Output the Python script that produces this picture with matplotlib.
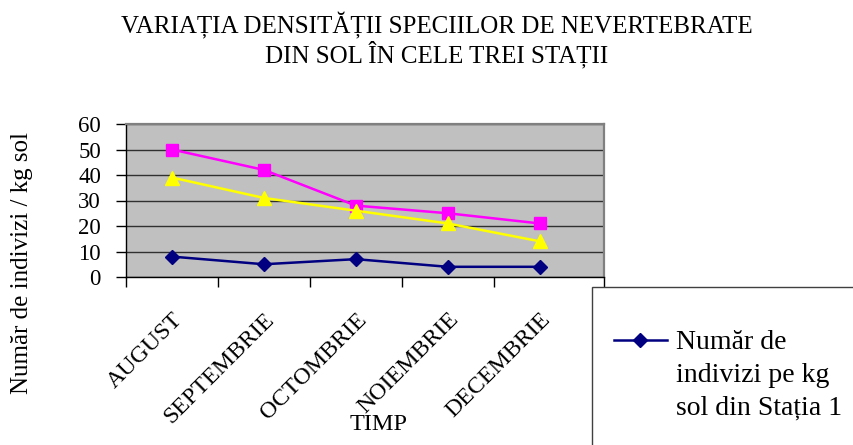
"""
Variatia densitatii speciilor de nevertebrate din sol - grafic tip Excel
"""

import matplotlib
matplotlib.use('Agg')
import matplotlib.pyplot as plt
from matplotlib.patches import Rectangle

plt.rcParams['font.family'] = ['Liberation Serif', 'DejaVu Serif']

# Date
LUNI = ['AUGUST', 'SEPTEMBRIE', 'OCTOMBRIE', 'NOIEMBRIE', 'DECEMBRIE']
STATIA_1 = [8, 5, 7, 4, 4]
STATIA_2 = [50, 42, 28, 25, 21]
STATIA_3 = [39, 31, 26, 21, 14]
Y_TICKS = [0, 10, 20, 30, 40, 50, 60]

TITLU = 'VARIAȚIA DENSITĂȚII SPECIILOR DE NEVERTEBRATE\nDIN SOL ÎN CELE TREI STAȚII'
ETICHETA_Y = 'Număr de indivizi / kg sol'
ETICHETA_X = 'TIMP'
LEGENDA_1 = 'Număr de\nindivizi pe kg\nsol din Stația 1'

W, H = 854, 445
fig = plt.figure(figsize=(W / 100, H / 100), dpi=100)

# zona graficului (pixeli din imaginea de referinta)
x0, x1, y0, y1 = 126, 604, 124, 277
ax = fig.add_axes([x0 / W, 1 - y1 / H, (x1 - x0) / W, (y1 - y0) / H])
ax.set_facecolor('#C0C0C0')

x = list(range(len(LUNI)))
l1, = ax.plot(x, STATIA_1, color='#000080', lw=1.8, marker='D', ms=7, zorder=3)
ax.plot(x, STATIA_2, color='#FF00FF', lw=1.8, marker='s', ms=8.5, zorder=3)
ax.plot(x, STATIA_3, color='#FFFF00', lw=1.8, marker='^', ms=9.5, zorder=3)

ax.set_ylim(0, 60)
ax.set_xlim(-0.5, 4.7)
ax.set_yticks(Y_TICKS)
ax.yaxis.grid(True, color='#303030', lw=1)
ax.set_axisbelow(True)

ax.set_xticks(x)
ax.set_xticklabels(LUNI)
ax.set_xticks([-0.5, 0.5, 1.5, 2.5, 3.5, 4.7], minor=True)
ax.tick_params(axis='x', which='major', length=0, pad=23, labelsize=17.2)
ax.tick_params(axis='x', which='minor', length=7, width=1, direction='out')
ax.tick_params(axis='y', length=7, width=1, pad=11, labelsize=16.5)
plt.setp(ax.get_xticklabels(), rotation=45, ha='right', va='top',
         rotation_mode='anchor')

for s in ['left', 'bottom']:
    ax.spines[s].set_color('black')
    ax.spines[s].set_linewidth(1)
for s in ['top', 'right']:
    ax.spines[s].set_color('#808080')
    ax.spines[s].set_linewidth(1.6)

fig.text(437 / W, 1 - 40 / H, TITLU, ha='center', va='center', fontsize=18,
         linespacing=1.05)
fig.text(22 / W, 1 - 263 / H, ETICHETA_Y, rotation=90, ha='center',
         va='center', fontsize=18)
fig.text(379 / W, 1 - 424 / H, ETICHETA_X, ha='center', va='center',
         fontsize=17.5)

# caseta legendei (taiata de marginea imaginii)
fig.add_artist(Rectangle((592 / W, -0.1), 0.6, 0.1 + (H - 287) / H,
                         transform=fig.transFigure, facecolor='white',
                         edgecolor='#404040', lw=1))
leg = fig.legend(handles=[l1], labels=[LEGENDA_1], loc='upper left',
                 bbox_to_anchor=(614 / W, 1 - 330 / H), frameon=False,
                 fontsize=20, handlelength=1.9, handletextpad=0.32,
                 borderpad=0, borderaxespad=0)
for t in leg.get_texts():
    t.set_linespacing(1.4)
for col in leg._legend_handle_box.get_children():
    for row in col.get_children():
        row.align = 'top'

plt.savefig('out.png', dpi=100)
